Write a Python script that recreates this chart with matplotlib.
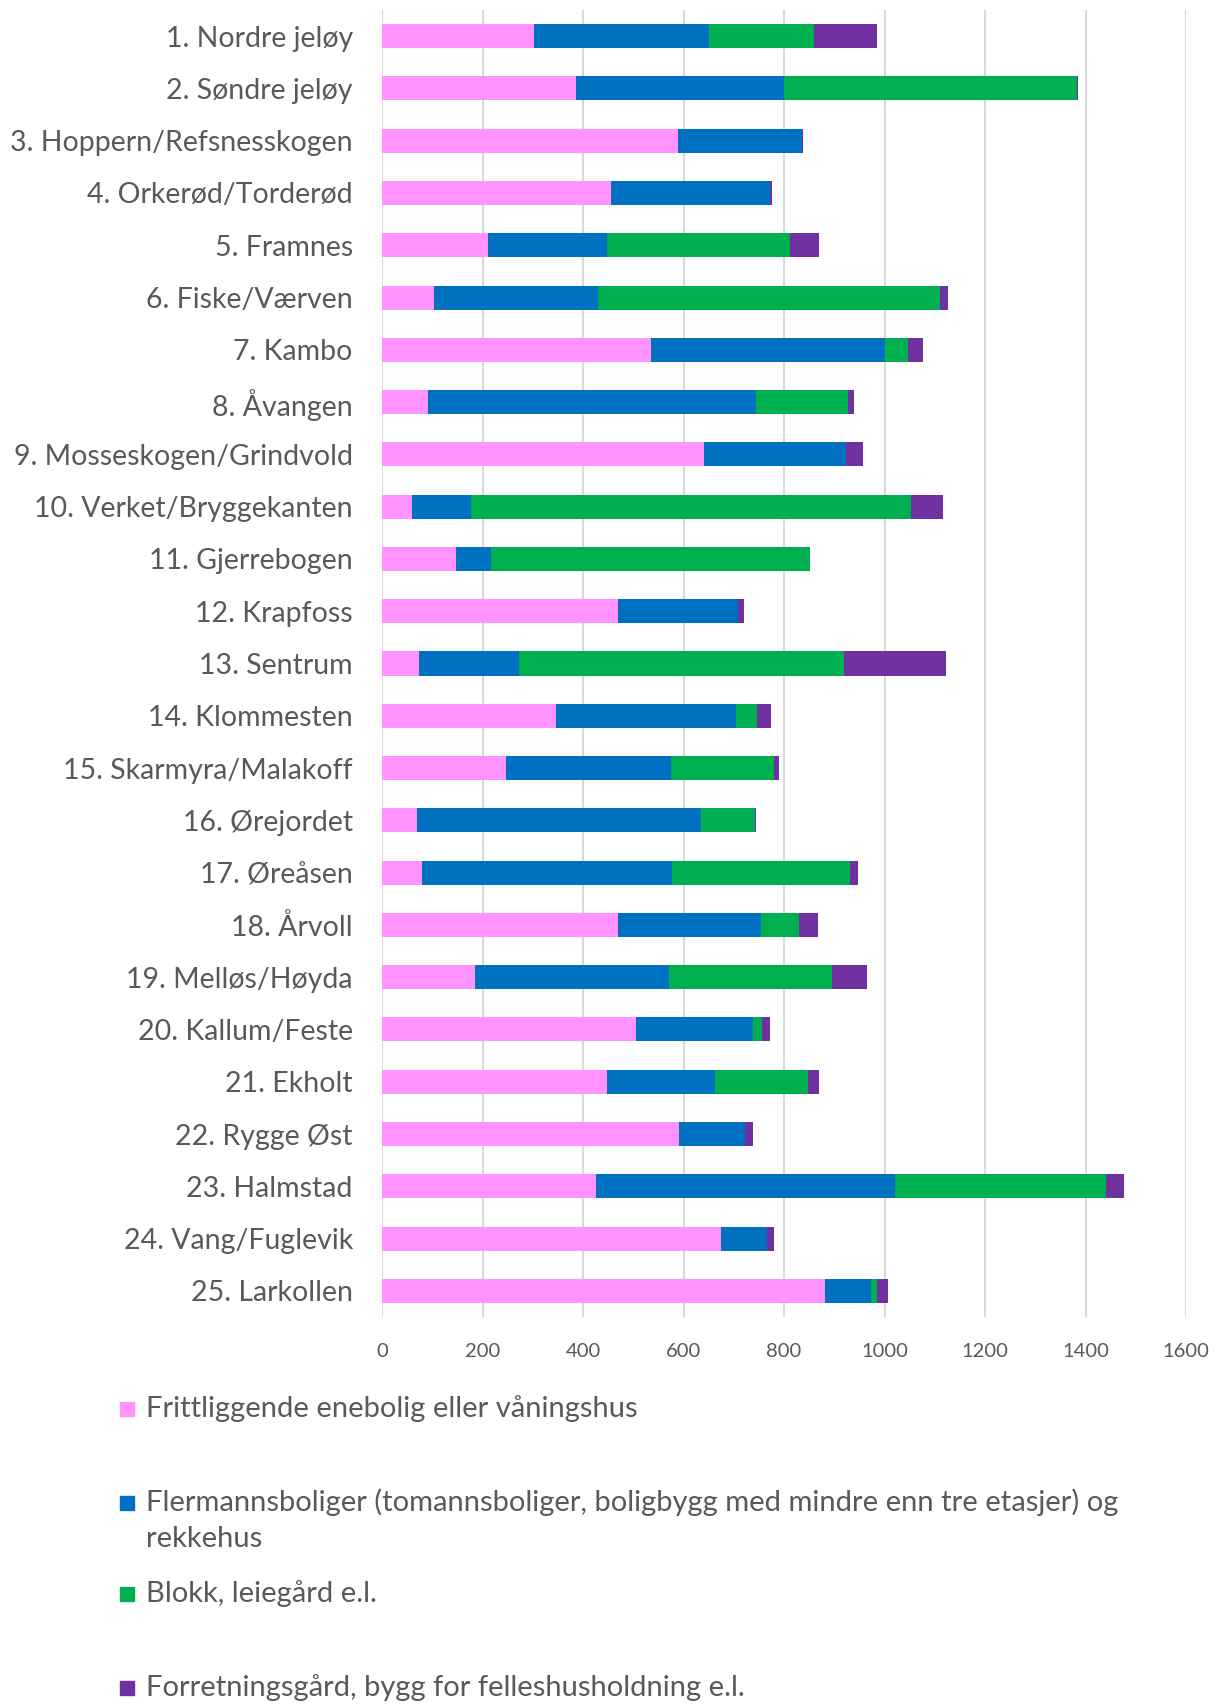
import matplotlib
matplotlib.use('Agg')
import matplotlib.pyplot as plt
import numpy as np
from matplotlib.patches import Rectangle

plt.rcParams['font.family'] = ['Lato', 'DejaVu Sans']

areas = ['1. Nordre jeløy', '2. Søndre jeløy', '3. Hoppern/Refsnesskogen',
         '4. Orkerød/Torderød', '5. Framnes', '6. Fiske/Værven', '7. Kambo',
         '8. Åvangen', '9. Mosseskogen/Grindvold', '10. Verket/Bryggekanten',
         '11. Gjerrebogen', '12. Krapfoss', '13. Sentrum', '14. Klommesten',
         '15. Skarmyra/Malakoff', '16. Ørejordet', '17. Øreåsen', '18. Årvoll',
         '19. Melløs/Høyda', '20. Kallum/Feste', '21. Ekholt', '22. Rygge Øst',
         '23. Halmstad', '24. Vang/Fuglevik', '25. Larkollen']

enebolig = [303, 387, 589, 456, 210, 104, 535, 91, 641, 60,
            148, 469, 74, 346, 246, 69, 79, 469, 186, 506,
            447, 592, 426, 674, 881]
flermanns = [348, 413, 247, 316, 237, 325, 466, 654, 283, 117,
             68, 240, 198, 358, 330, 566, 499, 286, 385, 232,
             215, 130, 595, 92, 92]
blokk = [208, 583, 0, 0, 365, 681, 45, 182, 0, 875,
         636, 0, 647, 43, 204, 107, 354, 74, 324, 19,
         186, 0, 419, 0, 13]
forretning = [127, 2, 2, 4, 57, 16, 31, 13, 33, 65,
              0, 11, 203, 27, 11, 2, 16, 38, 70, 15,
              21, 16, 37, 14, 20]

series = [enebolig, flermanns, blokk, forretning]
labels = ['Frittliggende enebolig eller våningshus',
          'Flermannsboliger (tomannsboliger, boligbygg med mindre enn tre etasjer) og\nrekkehus',
          'Blokk, leiegård e.l.',
          'Forretningsgård, bygg for felleshusholdning e.l.']
colors = ['#FF93FF', '#0070C0', '#00B050', '#7030A0']
text_grey = '#595959'

W, H = 1217, 1704
fig = plt.figure(figsize=(W / 100, H / 100), dpi=100)
ax = fig.add_axes([382 / W, 1 - 1317 / H, (1186 - 382) / W, (1317 - 10) / H])

y = np.arange(len(areas))
left = np.zeros(len(areas))
for vals, col in zip(series, colors):
    vals = np.array(vals, dtype=float)
    ax.barh(y, vals, left=left, height=0.46, color=col, zorder=3)
    left += vals

ax.set_xlim(0, 1600)
ax.set_ylim(len(areas) - 0.5, -0.5)
ax.set_xticks(np.arange(0, 1601, 200))
ax.set_yticks(y)
ax.set_yticklabels(areas)
ax.grid(axis='x', color='#D9D9D9', linewidth=1.5, zorder=0)
for s in ax.spines.values():
    s.set_visible(False)
ax.tick_params(axis='y', length=0, pad=21, labelsize=20.5, labelcolor=text_grey)
ax.tick_params(axis='x', length=0, pad=19, labelsize=14.5, labelcolor=text_grey)

# legend rows laid out by hand, one block per series
rows = [1409, 1503, 1594, 1688]
for lab, col, ry in zip(labels, colors, rows):
    fig.add_artist(Rectangle((120 / W, 1 - (ry + 7) / H), 14 / W, 14 / H,
                             transform=fig.transFigure, color=col))
    fig.text(146 / W, 1 - ry / H, lab, fontsize=21, color=text_grey,
             va='top' if '\n' in lab else 'center', ha='left',
             linespacing=1.5)

# two-line entry: anchor first line centre at its row
fig.texts[1].set_position((146 / W, 1 - (rows[1] - 15) / H))

fig.savefig('out.png', dpi=100)
